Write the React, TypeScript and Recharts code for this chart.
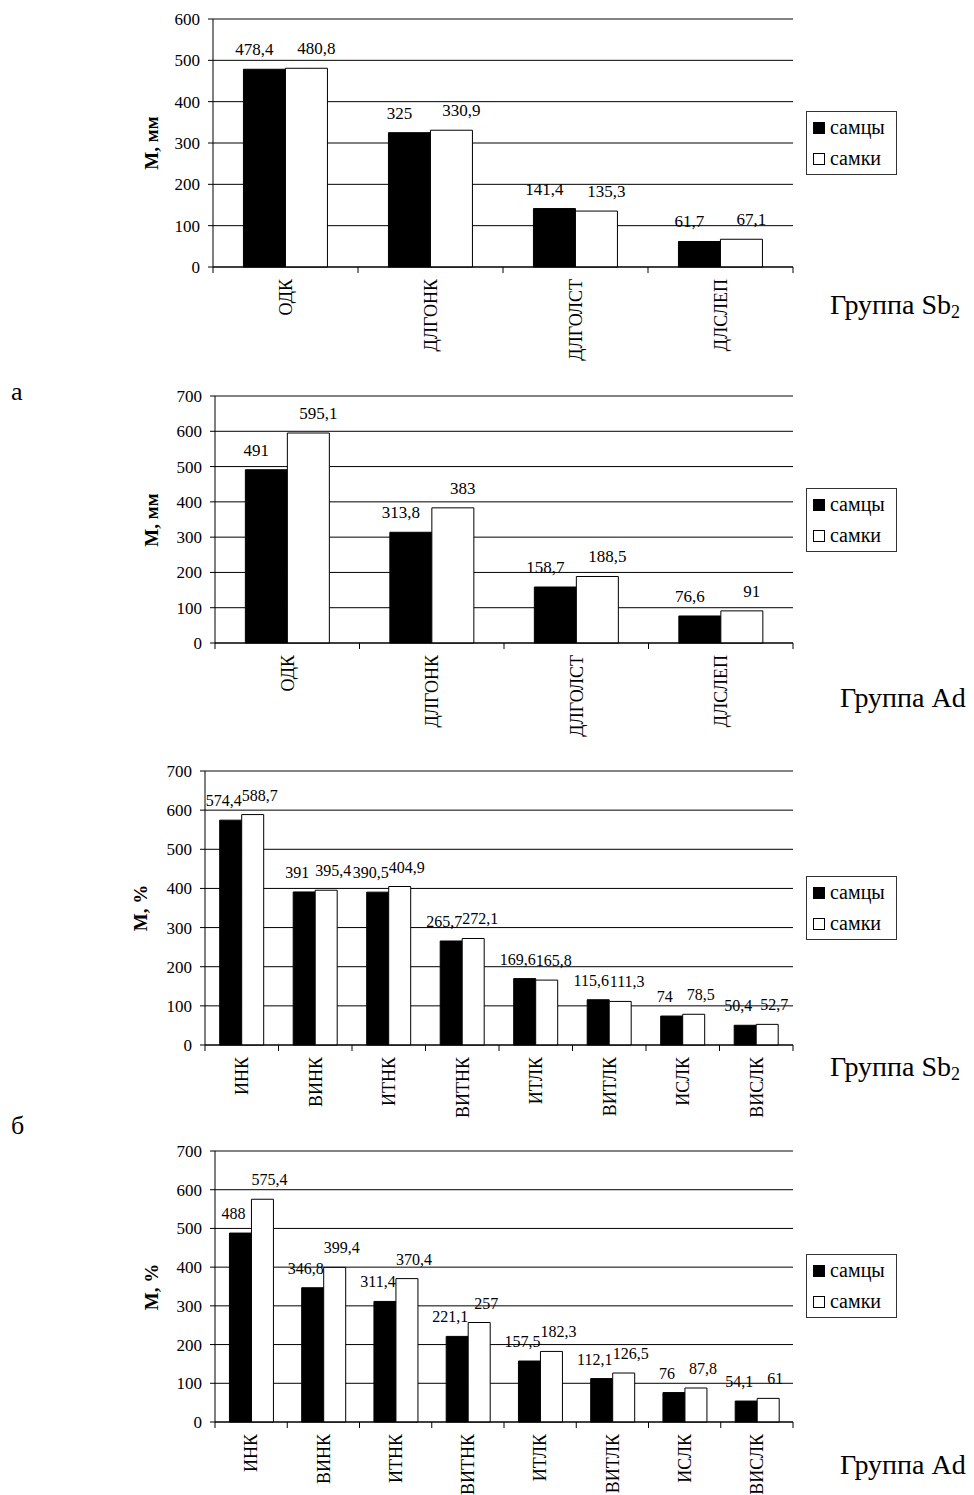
import { Bar, BarChart, CartesianGrid, LabelList, ReferenceLine, XAxis, YAxis } from "recharts"

const FONT = "'Liberation Serif', 'Times New Roman', serif"

// series names
const seriesNames = ["самцы", "самки"]

// categories
const catsA = ["ОДК", "ДЛГОНК", "ДЛГОЛСТ", "ДЛСЛЕП"]
const catsB = ["ИНК", "ВИНК", "ИТНК", "ВИТНК", "ИТЛК", "ВИТЛК", "ИСЛК", "ВИСЛК"]

// а, Sb2
const males1 = [478.4, 325, 141.4, 61.7]
const females1 = [480.8, 330.9, 135.3, 67.1]
// а, Ad
const males2 = [491, 313.8, 158.7, 76.6]
const females2 = [595.1, 383, 188.5, 91]
// б, Sb2
const males3 = [574.4, 391, 390.5, 265.7, 169.6, 115.6, 74, 50.4]
const females3 = [588.7, 395.4, 404.9, 272.1, 165.8, 111.3, 78.5, 52.7]
// б, Ad
const males4 = [488, 346.8, 311.4, 221.1, 157.5, 112.1, 76, 54.1]
const females4 = [575.4, 399.4, 370.4, 257, 182.3, 126.5, 87.8, 61]

const ticks600 = [0, 100, 200, 300, 400, 500, 600]
const ticks700 = [0, 100, 200, 300, 400, 500, 600, 700]

const CHART_W = 800
const PLOT_RIGHT = 793

const fmt = (v: any) => String(v).replace(".", ",")

function CatTick(props: any) {
  const { x, y, payload, index, catW, n } = props
  return (
    <g>
      <line x1={x - catW / 2} y1={y} x2={x - catW / 2} y2={y + 6} stroke="#000" />
      {index === n - 1 && <line x1={x + catW / 2} y1={y} x2={x + catW / 2} y2={y + 6} stroke="#000" />}
      <text
        x={x}
        y={y + 12}
        dy="0.35em"
        transform={`rotate(-90, ${x}, ${y + 12})`}
        textAnchor="end"
        fontFamily={FONT}
        fontSize={18}
        fill="#000"
      >
        {payload.value}
      </text>
    </g>
  )
}

function Panel(p: {
  top: number
  plotTop: number
  plotLeft: number
  plotBottom: number
  height: number
  cats: string[]
  males: number[]
  females: number[]
  ticks: number[]
  yLabel: string
  yLabelX: number
  legendTop: number
  group: React.ReactNode
  groupTop: number
  groupLeft: number
  gap: string
  labelSize: number
  labelDx: number
}) {
  const data = p.cats.map((c, i) => ({ name: c, m: p.males[i], f: p.females[i] }))
  const max = p.ticks[p.ticks.length - 1]
  const catW = (PLOT_RIGHT - p.plotLeft) / p.cats.length
  const xAxisH = p.height - p.plotBottom
  return (
    <>
      <div style={{ position: "absolute", left: 0, top: p.top }}>
        <BarChart
          width={CHART_W}
          height={p.height}
          data={data}
          barCategoryGap={p.gap}
          barGap={0}
          margin={{ top: p.plotTop, right: CHART_W - PLOT_RIGHT, left: p.plotLeft - 60, bottom: 0 }}
        >
          <CartesianGrid vertical={false} stroke="#000" yAxisId="l" />
          <XAxis
            dataKey="name"
            height={xAxisH}
            interval={0}
            axisLine={{ stroke: "#000" }}
            tickLine={false}
            tickSize={0}
            tickMargin={0}
            tick={<CatTick catW={catW} n={p.cats.length} />}
          />
          <YAxis
            yAxisId="l"
            width={60}
            domain={[0, max]}
            ticks={p.ticks}
            interval={0}
            axisLine={{ stroke: "#000" }}
            tickLine={{ stroke: "#000" }}
            tickSize={5}
            tickMargin={8}
            tick={{ fill: "#000", fontFamily: FONT, fontSize: 17 }}
          />
          <YAxis
            yAxisId="r"
            orientation="right"
            width={0}
            domain={[0, max]}
            tick={false}
            tickLine={false}
            axisLine={{ stroke: "#888" }}
          />
          <ReferenceLine yAxisId="l" y={max} stroke="#888" />
          <Bar yAxisId="l" dataKey="m" name={seriesNames[0]} fill="#000" stroke="#000" isAnimationActive={false}>
            <LabelList
              dataKey="m"
              position="top"
              offset={14}
              dx={-p.labelDx}
              formatter={fmt}
              fill="#000"
              fontFamily={FONT}
              fontSize={p.labelSize}
            />
          </Bar>
          <Bar yAxisId="l" dataKey="f" name={seriesNames[1]} fill="#fff" stroke="#000" isAnimationActive={false}>
            <LabelList
              dataKey="f"
              position="top"
              offset={14}
              dx={p.labelDx}
              formatter={fmt}
              fill="#000"
              fontFamily={FONT}
              fontSize={p.labelSize}
            />
          </Bar>
        </BarChart>
      </div>
      <div
        style={{
          position: "absolute",
          left: p.yLabelX - 60,
          top: p.top + p.plotTop + (p.plotBottom - p.plotTop) / 2 - 12,
          width: 120,
          height: 24,
          lineHeight: "24px",
          textAlign: "center",
          transform: "rotate(-90deg)",
          fontFamily: FONT,
          fontWeight: "bold",
          fontSize: 19,
        }}
      >
        {p.yLabel}
      </div>
      <div
        style={{
          position: "absolute",
          left: 806,
          top: p.legendTop,
          width: 89,
          height: 62,
          border: "1px solid #333",
          fontFamily: FONT,
          fontSize: 20,
          boxSizing: "content-box",
        }}
      >
        {seriesNames.map((s, i) => (
          <div key={s} style={{ display: "flex", alignItems: "center", height: 31, paddingLeft: 6 }}>
            <span
              style={{
                display: "inline-block",
                width: 12,
                height: 12,
                background: i === 0 ? "#000" : "#fff",
                border: "1px solid #000",
                marginRight: 5,
                boxSizing: "border-box",
              }}
            />
            {s}
          </div>
        ))}
      </div>
      <div
        style={{
          position: "absolute",
          left: p.groupLeft,
          top: p.groupTop,
          fontFamily: FONT,
          fontSize: 28,
          lineHeight: "30px",
          whiteSpace: "nowrap",
        }}
      >
        {p.group}
      </div>
    </>
  )
}

const Sb2 = (
  <>
    Группа Sb<sub style={{ fontSize: 18, verticalAlign: "-4px" }}>2</sub>
  </>
)

export default function App() {
  return (
    <div style={{ position: "absolute", left: 0, top: 0, width: 974, height: 1495, background: "#fff", fontFamily: FONT }}>
      <Panel
        top={0}
        plotTop={19}
        plotLeft={213}
        plotBottom={267}
        height={370}
        cats={catsA}
        males={males1}
        females={females1}
        ticks={ticks600}
        yLabel="М, мм"
        yLabelX={152}
        legendTop={111}
        group={Sb2}
        groupTop={290}
        groupLeft={830}
        gap="21%"
        labelSize={17}
        labelDx={10}
      />
      <div style={{ position: "absolute", left: 11, top: 377, fontSize: 26, lineHeight: "30px" }}>а</div>
      <Panel
        top={376}
        plotTop={20}
        plotLeft={215}
        plotBottom={267}
        height={367}
        cats={catsA}
        males={males2}
        females={females2}
        ticks={ticks700}
        yLabel="М, мм"
        yLabelX={152}
        legendTop={488}
        group="Группа Ad"
        groupTop={683}
        groupLeft={840}
        gap="21%"
        labelSize={17}
        labelDx={10}
      />
      <Panel
        top={750}
        plotTop={21}
        plotLeft={205}
        plotBottom={295}
        height={375}
        cats={catsB}
        males={males3}
        females={females3}
        ticks={ticks700}
        yLabel="М, %"
        yLabelX={141}
        legendTop={876}
        group={Sb2}
        groupTop={1052}
        groupLeft={830}
        gap="20%"
        labelSize={16}
        labelDx={7}
      />
      <div style={{ position: "absolute", left: 11, top: 1111, fontSize: 26, lineHeight: "30px" }}>б</div>
      <Panel
        top={1130}
        plotTop={21}
        plotLeft={215}
        plotBottom={292}
        height={365}
        cats={catsB}
        males={males4}
        females={females4}
        ticks={ticks700}
        yLabel="М, %"
        yLabelX={152}
        legendTop={1254}
        group="Группа Ad"
        groupTop={1450}
        groupLeft={840}
        gap="20%"
        labelSize={16}
        labelDx={7}
      />
    </div>
  )
}
